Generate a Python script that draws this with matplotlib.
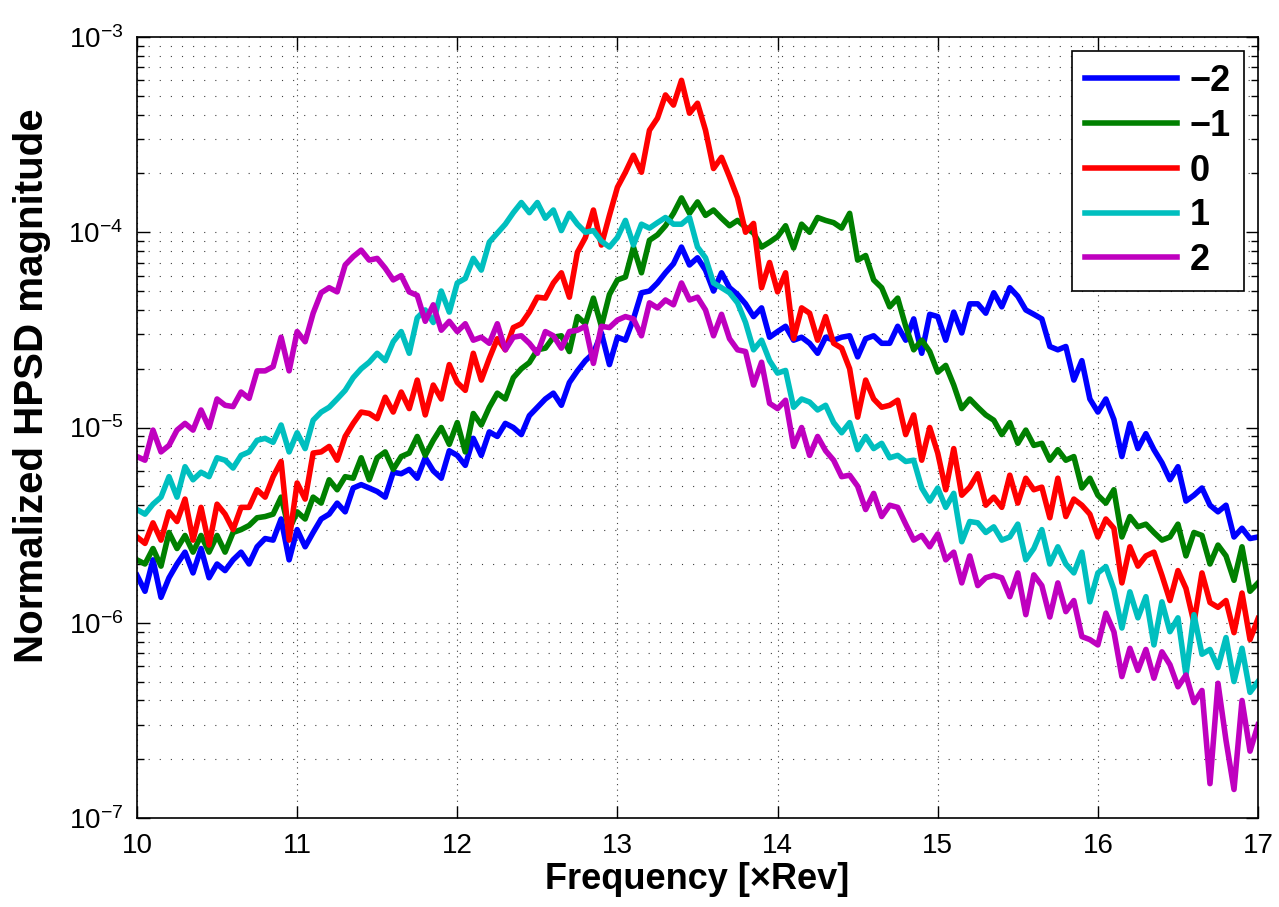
import numpy as np
import matplotlib
matplotlib.use('Agg')
import matplotlib.pyplot as plt
from matplotlib.ticker import LogLocator, NullFormatter

plt.rcParams['font.family'] = ['Liberation Sans', 'DejaVu Sans']
plt.rcParams['mathtext.fontset'] = 'custom'
plt.rcParams['mathtext.rm'] = 'Liberation Sans'

# frequency axis in multiples of rev, 0.05 step
freq = np.linspace(10, 17, 141)

# HPSD magnitude per harmonic index (units of 1e-6)
hpsd_m2 = np.array([
    1.75, 1.45, 2.1, 1.35, 1.7, 2.0, 2.3, 1.8, 2.4, 1.7,
    2.0, 1.85, 2.1, 2.3, 2.0, 2.45, 2.7, 2.65, 3.4, 2.1,
    3.0, 2.45, 2.9, 3.4, 3.6, 4.1, 3.7, 4.9, 5.1, 4.9,
    4.7, 4.4, 5.9, 5.8, 6.1, 5.5, 7.0, 6.0, 5.5, 7.6,
    7.2, 6.4, 8.8, 7.2, 9.5, 9.0, 10.5, 10.0, 9.2, 11.5,
    12.7, 14, 15, 13, 17, 19.5, 22, 24, 30.5, 21,
    29, 28, 36, 49, 50, 55, 62, 69, 84, 68,
    74, 64, 50, 62, 52, 48, 43, 37, 41, 29,
    31, 33, 28, 29, 27, 24, 29, 28, 29, 29.5,
    23, 28.5, 29.5, 27, 27, 33, 28, 36, 24, 38,
    37, 28, 39, 30.5, 43, 43, 38.5, 49, 41.5, 52,
    47, 40, 38, 36, 26, 25, 26, 17.5, 22, 14,
    12, 14, 11, 7.1, 10.5, 7.8, 9.3, 7.7, 6.6, 5.4,
    6.3, 4.2, 4.5, 4.9, 4.0, 3.7, 4.0, 2.75, 3.05, 2.7,
    2.75]) * 1e-6

hpsd_m1 = np.array([
    2.1, 2.0, 2.4, 1.95, 2.9, 2.4, 2.8, 2.3, 2.8, 2.3,
    2.8, 2.3, 2.9, 3.0, 3.15, 3.45, 3.5, 3.6, 4.4, 3.0,
    3.7, 3.4, 4.4, 4.1, 5.4, 4.8, 5.6, 5.5, 7.0, 5.4,
    7.0, 7.5, 6.1, 7.1, 7.4, 9.0, 7.2, 8.6, 10, 8.2,
    10.6, 7.5, 11.8, 10.3, 12.7, 15, 14, 18, 20, 21.5,
    25, 25.5, 29, 29.5, 24.5, 37, 34, 46, 33, 48,
    57, 59, 84, 62, 91, 97, 108, 125, 150, 125,
    143, 122, 130, 118, 108, 115, 106, 99, 84, 89,
    95, 108, 83, 110, 100, 119, 115, 112, 105, 125,
    72, 76, 57, 52, 41.5, 46, 33, 25, 28, 24.5,
    19.2, 20.8, 16.5, 12.5, 14, 12.7, 11.6, 10.9, 9.2, 10.6,
    8.3, 9.7, 8.1, 8.3, 6.8, 7.7, 6.8, 7.1, 4.9, 5.5,
    4.5, 4.1, 4.8, 2.75, 3.5, 3.1, 3.2, 2.9, 2.65, 2.75,
    3.2, 2.2, 2.9, 2.8, 2.0, 2.5, 2.2, 1.65, 2.45, 1.45,
    1.6]) * 1e-6

hpsd_0 = np.array([
    2.75, 2.55, 3.25, 2.65, 3.7, 3.3, 4.3, 2.65, 3.9, 2.5,
    4.05, 3.6, 3.0, 3.9, 3.9, 4.8, 4.4, 5.6, 6.7, 2.65,
    5.2, 4.3, 7.4, 7.5, 8.0, 6.8, 9.0, 10.5, 12, 11.8,
    11.1, 14.3, 12, 15.2, 12.5, 17.5, 11.6, 16.5, 14, 21,
    17, 15.5, 24, 17.5, 22.6, 28.5, 25, 32.5, 34, 39,
    46.5, 46, 55, 62, 46.5, 79, 94, 130, 86, 122,
    170, 203, 248, 203, 333, 384, 505, 448, 600, 407,
    458, 333, 212, 242, 192, 150, 100, 111, 52, 70,
    49.5, 62, 28.5, 41, 38.5, 28, 37, 27, 25.5, 20,
    11.3, 17.5, 14, 12.7, 13, 13.8, 9.2, 11.6, 6.8, 10,
    7.4, 4.8, 7.8, 4.5, 4.95, 5.8, 4.0, 4.4, 3.9, 5.7,
    4.1, 5.5, 4.8, 4.95, 3.45, 5.5, 3.5, 4.3, 4.0, 3.6,
    2.75, 3.4, 3.05, 1.6, 2.45, 1.95, 2.2, 2.3, 1.75, 1.3,
    1.85, 1.5, 1.0, 1.8, 1.27, 1.2, 1.3, 0.89, 1.42, 0.82,
    1.05]) * 1e-6

hpsd_p1 = np.array([
    3.8, 3.6, 4.05, 4.4, 5.6, 4.4, 6.3, 5.4, 5.9, 5.6,
    7.0, 6.8, 6.2, 7.2, 7.5, 8.6, 8.8, 8.4, 10.3, 7.5,
    9.4, 7.8, 10.9, 12, 12.7, 14, 15.5, 18, 20, 21.6,
    24, 22, 27.5, 31, 24, 36.5, 40, 34.5, 50, 39,
    55, 58, 73.5, 64, 89, 99, 110, 126, 142, 126,
    142, 118, 130, 102, 125, 110, 100, 102, 90, 84,
    94, 115, 86, 110, 105, 112, 119, 110, 110, 119,
    84, 74, 55, 52, 49, 43.5, 34.5, 25, 28, 22,
    19, 19.6, 12.7, 14, 13.5, 12.3, 13, 10.6, 9.4, 10.6,
    7.7, 9.0, 7.8, 8.3, 7.0, 7.2, 6.7, 6.8, 4.9, 4.2,
    4.9, 3.9, 4.6, 2.6, 3.3, 3.25, 2.9, 3.1, 2.65, 2.75,
    3.2, 2.1, 2.4, 3.0, 2.0, 2.45, 2.0, 1.8, 2.3, 1.28,
    1.8, 1.94, 1.48, 0.94, 1.44, 1.06, 1.36, 0.77, 1.28, 0.9,
    1.06, 0.54, 1.1, 0.69, 0.73, 0.59, 0.84, 0.5, 0.74, 0.44,
    0.5]) * 1e-6

hpsd_p2 = np.array([
    7.1, 6.8, 9.7, 7.5, 8.1, 9.7, 10.5, 9.7, 12.3, 10,
    14, 13, 12.8, 15.2, 14.1, 19.5, 19.5, 20.5, 29, 19.5,
    31, 27.5, 38.5, 49, 52, 49.5, 68, 75, 81, 72,
    73.5, 65.5, 57, 60, 49.5, 47.5, 35, 42.5, 31.5, 35,
    31, 34, 28, 29, 27, 34, 25, 29, 29.5, 27,
    24, 31, 29.5, 25.5, 31, 31.5, 33, 21.3, 33, 32.5,
    35.5, 37, 36, 29.5, 43.5, 41, 45, 42.5, 55, 45,
    46.5, 40, 29.5, 38, 28.5, 25, 24.5, 16.5, 21.6, 13.3,
    12.5, 13.8, 8, 10, 7.2, 9, 7.6, 6.8, 5.6, 5.7,
    5.0, 3.8, 4.6, 3.5, 4.0, 3.9, 3.2, 2.65, 2.8, 2.45,
    2.85, 2.1, 2.3, 1.6, 2.2, 1.55, 1.7, 1.75, 1.7, 1.36,
    1.8, 1.1, 1.76, 1.55, 1.07, 1.6, 1.14, 1.3, 0.85, 0.82,
    0.77, 1.12, 0.9, 0.53, 0.74, 0.57, 0.73, 0.52, 0.71, 0.61,
    0.47, 0.54, 0.39, 0.45, 0.15, 0.49, 0.25, 0.14, 0.40, 0.22,
    0.30]) * 1e-6

labels = ['\u22122', '\u22121', '0', '1', '2']
colors = ['#0000ff', '#008000', '#ff0000', '#00bfbf', '#bf00bf']
series = [hpsd_m2, hpsd_m1, hpsd_0, hpsd_p1, hpsd_p2]

fig = plt.figure(figsize=(12.79, 9.07), dpi=100)
ax = fig.add_axes([0.1071, 0.0981, 0.8765, 0.8611])

for vals, col, lab in zip(series, colors, labels):
    ax.semilogy(freq, vals, color=col, lw=4.0, label=lab)

ax.set_xlim(10, 17)
ax.set_ylim(1e-7, 1e-3)
ax.set_xticks(range(10, 18))
ax.yaxis.set_major_locator(LogLocator(base=10, numticks=10))
ax.yaxis.set_minor_locator(LogLocator(base=10, subs=np.arange(2, 10), numticks=10))
ax.yaxis.set_minor_formatter(NullFormatter())

ax.tick_params(which='both', direction='in', top=True, right=True, width=1, labelsize=20)
ax.tick_params(which='major', length=9)
ax.tick_params(which='minor', length=5)
ax.tick_params(axis='x', pad=11)
ax.tick_params(axis='y', pad=10)
for sp in ax.spines.values():
    sp.set_linewidth(1.2)

ax.grid(True, axis='x', which='major', linestyle=(0, (1, 4)), color='0.25', lw=0.8)
ax.grid(True, axis='y', which='both', linestyle=(0, (1, 9)), color='0.25', lw=0.8)

ax.set_xlabel('Frequency [\u00d7Rev]', fontsize=26, fontweight='bold', labelpad=2)
ax.set_ylabel('Normalized HPSD magnitude', fontsize=29, fontweight='bold')
ax.yaxis.set_label_coords(-0.077, 0.553)

leg = ax.legend(loc='upper right', prop={'weight': 'bold', 'size': 26},
                handlelength=2.55, handletextpad=0.35, labelspacing=0.27,
                borderpad=0.35, borderaxespad=0.4, fancybox=False,
                edgecolor='black', framealpha=1)
leg.get_frame().set_linewidth(1.2)

fig.savefig('out.png', dpi=100)
